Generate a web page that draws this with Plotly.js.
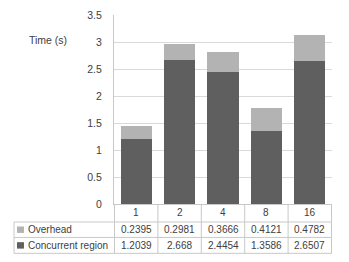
<!DOCTYPE html>
<html><head><meta charset="utf-8">
<script src="https://cdn.plot.ly/plotly-3.0.1.min.js"></script>
<style>html,body{margin:0;padding:0;background:#fff}#c{width:349px;height:262px}</style>
</head><body><div id="c"></div>
<script>
var categories = ['1', '2', '4', '8', '16'];
var concurrent = [1.2039, 2.668, 2.4454, 1.3586, 2.6507];
var overhead = [0.2395, 0.2981, 0.3666, 0.4121, 0.4782];
var seriesNames = ['Overhead', 'Concurrent region'];
var overheadLabels = ['0.2395', '0.2981', '0.3666', '0.4121', '0.4782'];
var concurrentLabels = ['1.2039', '2.668', '2.4454', '1.3586', '2.6507'];

var cOver = '#b3b3b3', cConc = '#5f5f5f';
var font = {family: 'Liberation Sans, Arial, sans-serif', size: 10, color: '#404040'};
var tickFont = {family: 'Liberation Sans, Arial, sans-serif', size: 10.5, color: '#404040'};
var lineCol = '#c8c8c8';

var traces = [
  {type: 'bar', x: categories, y: concurrent, name: seriesNames[1], marker: {color: cConc}, hoverinfo: 'none'},
  {type: 'bar', x: categories, y: overhead, name: seriesNames[0], marker: {color: cOver}, hoverinfo: 'none'}
];

var yRowTop = 0, yRow1 = -0.0952, yRow2 = -0.177, yRow3 = -0.261, xLeft = -0.4587;
var rowCat = -0.047, rowOver = -0.136, rowConc = -0.219;

var shapes = [];
function hline(y, x0) {
  shapes.push({type: 'line', xref: 'paper', yref: 'paper', x0: x0, x1: 1, y0: y, y1: y, line: {color: lineCol, width: 1}});
}
hline(yRow1, xLeft); hline(yRow2, xLeft); hline(yRow3, xLeft);
for (var i = 0; i <= categories.length; i++) {
  shapes.push({type: 'line', xref: 'x', yref: 'paper', x0: i - 0.5, x1: i - 0.5, y0: yRowTop, y1: yRow3, line: {color: lineCol, width: 1}});
}
shapes.push({type: 'line', xref: 'paper', yref: 'paper', x0: xLeft, x1: xLeft, y0: yRow1, y1: yRow3, line: {color: lineCol, width: 1}});
shapes.push({type: 'rect', xref: 'paper', yref: 'paper', x0: -0.445, x1: -0.413, y0: rowOver - 0.017, y1: rowOver + 0.017, fillcolor: cOver, line: {width: 0}});
shapes.push({type: 'rect', xref: 'paper', yref: 'paper', x0: -0.445, x1: -0.413, y0: rowConc - 0.017, y1: rowConc + 0.017, fillcolor: cConc, line: {width: 0}});

var ann = [];
ann.push({xref: 'paper', yref: 'paper', x: -0.399, y: 0.87, text: 'Time (s)', showarrow: false, xanchor: 'left', yanchor: 'middle', font: tickFont});
for (var j = 0; j < categories.length; j++) {
  ann.push({xref: 'x', yref: 'paper', x: j, y: rowCat, text: categories[j], showarrow: false, yanchor: 'middle', font: font});
  ann.push({xref: 'x', yref: 'paper', x: j, y: rowOver, text: overheadLabels[j], showarrow: false, yanchor: 'middle', font: font});
  ann.push({xref: 'x', yref: 'paper', x: j, y: rowConc, text: concurrentLabels[j], showarrow: false, yanchor: 'middle', font: font});
}
ann.push({xref: 'paper', yref: 'paper', x: -0.405, y: rowOver, text: seriesNames[0], showarrow: false, xanchor: 'left', yanchor: 'middle', font: font});
ann.push({xref: 'paper', yref: 'paper', x: -0.405, y: rowConc, text: seriesNames[1], showarrow: false, xanchor: 'left', yanchor: 'middle', font: font});

var layout = {
  width: 349, height: 262,
  margin: {l: 114, r: 17, t: 15, b: 58, pad: 0},
  paper_bgcolor: '#fff', plot_bgcolor: '#fff',
  barmode: 'stack', bargap: 0.28,
  showlegend: false,
  font: font,
  xaxis: {type: 'category', showticklabels: false, showgrid: false, zeroline: false, showline: true, linecolor: lineCol, ticks: '', fixedrange: true},
  yaxis: {range: [0, 3.5], dtick: 0.5, showgrid: true, gridcolor: '#d9d9d9', zeroline: false, showline: true, linecolor: lineCol, ticks: '', ticklabelstandoff: 9, tickfont: tickFont, fixedrange: true},
  shapes: shapes,
  annotations: ann
};
Plotly.newPlot('c', traces, layout, {staticPlot: true});
</script></body></html>
